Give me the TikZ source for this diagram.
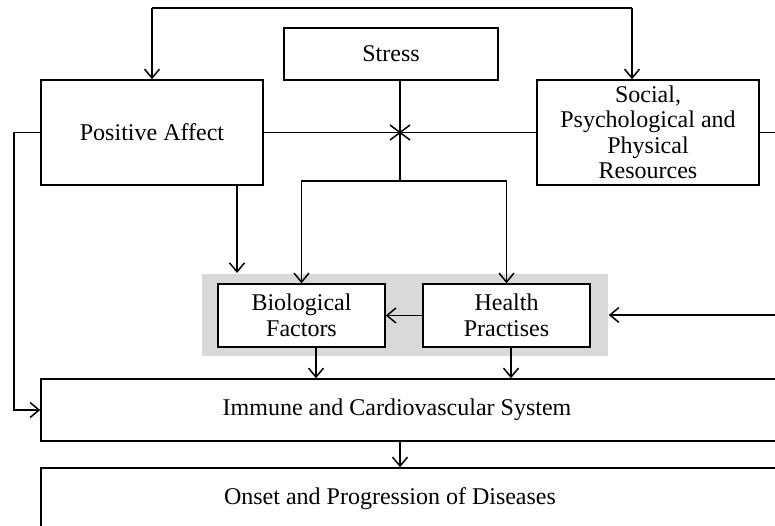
\documentclass[tikz,border=0pt]{standalone}
\usepackage{fontspec}
\setmainfont{Liberation Serif}
\usetikzlibrary{arrows.meta,calc}
\begin{document}
\begin{tikzpicture}[x=1pt,y=-1pt,
  line width=1.5pt,
  box/.style={draw, fill=white, inner sep=0pt, align=center, font=\fontsize{24}{25.5}\selectfont},
  txt/.style={inner sep=0pt, align=center, font=\fontsize{24}{25.5}\selectfont},
  arr/.style={-{Straight Barb[length=9pt,width=15pt]}}]
\clip (0,0) rectangle (775,526);
\fill[white] (0,0) rectangle (775,526);
% group background
\node[fill=black!15, draw=none, inner sep=0pt, minimum width=406, minimum height=82] (grp) at (405,315) {};
% boxes
\node[box, minimum width=214, minimum height=52] (stress) at (391,54) {Stress};
\node[box, minimum width=222, minimum height=105] (pa) at (152,132.5) {Positive Affect};
\node[box, minimum width=222, minimum height=105] (soc) at (648,132.5) {Social,\\Psychological and\\Physical\\Resources};
\node[box, minimum width=167, minimum height=63] (bio) at (301.5,315.5) {Biological\\Factors};
\node[box, minimum width=167, minimum height=63] (hp) at (506.5,315.5) {Health\\Practises};
\node[box, minimum width=759, minimum height=62] (imm) at (420.5,410) {};
\node[txt] (immt) at (397,410) {Immune and Cardiovascular System};
\node[box, minimum width=759, minimum height=92] (ons) at (420.5,514) {};
\node[txt] (onst) at (390,499) {Onset and Progression of Diseases};
% coordinates
\coordinate (tl) at (152,8);
\coordinate (tr) at (632,8);
\coordinate (x) at (400,132.5);
\coordinate (sj) at (400,181);
\coordinate (paa) at (237,273);
\coordinate (rout) at (775,132.5);
\coordinate (rin) at (775,315);
\coordinate (lft) at (14,0);
% connectors
\draw (tl) -- (tr);
\draw[arr] (tl) -- (tl |- pa.north);
\draw[arr] (tr) -- (tr |- soc.north);
\draw (pa.east) -- (soc.west);
\draw (soc.east) -- (rout);
\draw (stress.south -| sj) -- (sj);
\draw ($(x)+(-10,-7.5)$) -- ($(x)+(10,7.5)$);
\draw ($(x)+(10,-7.5)$) -- ($(x)+(-10,7.5)$);
\draw[arr] (sj) -| (bio.north);
\draw[arr] (sj) -| (hp.north);
\draw[arr] (pa.south -| paa) -- (paa);
\draw[arr] (hp.west) -- (bio.east);
\draw[arr] (rin) -- (grp.east);
\draw[arr] ([xshift=14.5]bio.south) -- ([xshift=14.5]bio.south |- imm.north);
\draw[arr] ([xshift=4.5]hp.south) -- ([xshift=4.5]hp.south |- imm.north);
\draw[arr] (imm.south -| x) -- (ons.north -| x);
\draw[arr] (pa.west) -- (pa.west -| lft) |- (imm.west);
\end{tikzpicture}
\end{document}
